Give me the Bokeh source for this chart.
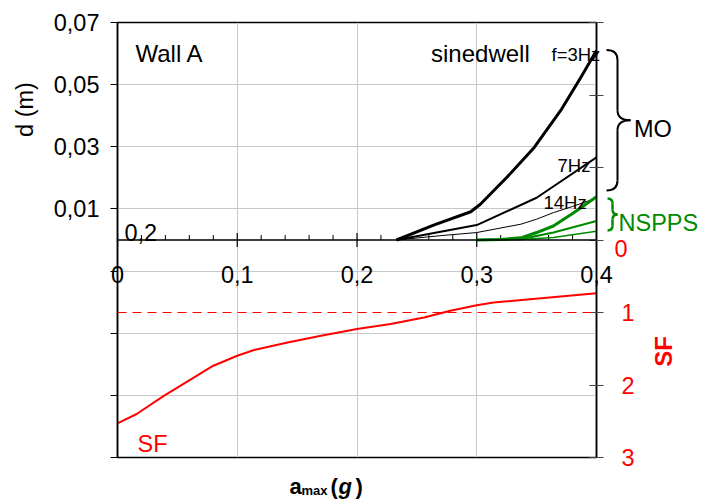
from bokeh.plotting import figure
from bokeh.models import (Range1d, LinearAxis, FixedTicker, CustomJSTickFormatter,
                          Span, ColumnDataSource)
from bokeh.embed import file_html
from bokeh.resources import INLINE
from bokeh.core.properties import value

# ---------------- data ----------------
x_ticks = [0.0, 0.1, 0.2, 0.3, 0.4]
x_tick_labels = ["0", "0,1", "0,2", "0,3", "0,4"]
x_minor_ticks = [0.02, 0.04, 0.06, 0.08, 0.12, 0.14, 0.16, 0.18,
                 0.22, 0.24, 0.26, 0.28, 0.32, 0.34, 0.36, 0.38]
d_ticks = [0.07, 0.05, 0.03, 0.01, -0.01, -0.03, -0.05, -0.07]
sf_ticks = [-3, -2, -1, 0, 1, 2, 3]

# sinedwell, MO (black)
f3_x = [0.233, 0.264, 0.295, 0.303, 0.325, 0.348, 0.370, 0.387, 0.400]
f3_d = [0.0, 0.0048, 0.0091, 0.0115, 0.0201, 0.0298, 0.0416, 0.0524, 0.0610]
f7_x = [0.233, 0.300, 0.350, 0.400]
f7_d = [0.0, 0.0048, 0.0136, 0.0266]
f14_x = [0.233, 0.270, 0.300, 0.337, 0.350, 0.364, 0.380, 0.400]
f14_d = [0.0, 0.0014, 0.0024, 0.0051, 0.0067, 0.0088, 0.0108, 0.0135]

# NSPPS (green)
n3_x = [0.300, 0.320, 0.337, 0.350, 0.364, 0.381, 0.400]
n3_d = [0.0, 0.0002, 0.0007, 0.0024, 0.0045, 0.0088, 0.0139]
n7_x = [0.300, 0.337, 0.364, 0.400]
n7_d = [0.0, 0.0003, 0.0024, 0.0061]
n14_x = [0.300, 0.337, 0.364, 0.400]
n14_d = [0.0, 0.0002, 0.0008, 0.0028]

# safety factor (red)
sf_x = [0.0, 0.016, 0.039, 0.064, 0.080, 0.100, 0.114, 0.142, 0.170, 0.200,
        0.228, 0.256, 0.278, 0.300, 0.314, 0.400]
sf_v = [2.528, 2.40, 2.147, 1.895, 1.734, 1.596, 1.518, 1.413, 1.321, 1.229,
        1.160, 1.069, 0.977, 0.899, 0.862, 0.734]
sf_limit = 1.0

# ---------------- layout constants ----------------
X0, X1 = 0.0, 0.4
D0, D1 = -0.07, 0.07
W, H = 702, 500
FL, FT, FW, FH = 117, 22, 479, 435   # frame position on the canvas (px)
FONT = "Liberation Sans"
RED = "#ff0000"
GREEN = "#008a00"


def xd(px):
    return X0 + (px - FL) / FW * (X1 - X0)


def yd(py):
    return D1 - (py - FT) / FH * (D1 - D0)


PX_D = (D1 - D0) / FH

p = figure(width=W, height=H, output_backend="svg", toolbar_location=None,
           x_range=Range1d(X0, X1), y_range=Range1d(D0, D1),
           min_border_left=FL, min_border_top=FT,
           min_border_right=W - FL - FW, min_border_bottom=H - FT - FH)
p.extra_y_ranges = {"sf": Range1d(3, -3)}
p.background_fill_color = "white"
p.border_fill_color = "white"
p.outline_line_color = "black"
p.outline_line_width = 1.5

# hidden bottom axis (only feeds the vertical grid)
p.xaxis.visible = False
p.xgrid.ticker = FixedTicker(ticks=x_ticks)
p.xgrid.grid_line_color = "#c8c8c8"

# left axis
ya = p.yaxis[0]
ya.ticker = FixedTicker(ticks=d_ticks)
ya.formatter = CustomJSTickFormatter(code="return tick > 0 ? tick.toFixed(2).replace('.', ',') : ''")
ya.major_tick_out = 7
ya.major_tick_in = 0
ya.minor_tick_out = 0
ya.minor_tick_in = 0
ya.axis_line_color = "black"
ya.axis_line_width = 1.5
ya.major_tick_line_color = "black"
ya.major_label_text_font = FONT
ya.major_label_text_font_size = "23.5px"
ya.major_label_text_color = "black"
ya.major_label_standoff = 11
p.ygrid.ticker = FixedTicker(ticks=d_ticks)
p.ygrid.grid_line_color = "#c8c8c8"

# right axis (SF)
ra = LinearAxis(y_range_name="sf", ticker=FixedTicker(ticks=sf_ticks),
                formatter=CustomJSTickFormatter(code="return tick > 0 ? String(tick) : ''"))
ra.major_tick_out = 7
ra.major_tick_in = 7
ra.minor_tick_out = 0
ra.minor_tick_in = 0
ra.axis_line_color = "black"
ra.axis_line_width = 1.5
ra.major_tick_line_color = "#444444"
ra.major_label_text_font = FONT
ra.major_label_text_font_size = "23.5px"
ra.major_label_text_color = RED
ra.major_label_standoff = 18
p.add_layout(ra, "right")

# middle x axis (d = 0)
p.add_layout(Span(location=0, dimension="width", line_color="black", line_width=1.5))
p.segment(x0=x_ticks, y0=[-7 * PX_D] * len(x_ticks), x1=x_ticks, y1=[7 * PX_D] * len(x_ticks),
          line_color="black", line_width=1.2)
p.segment(x0=x_minor_ticks, y0=[0] * len(x_minor_ticks), x1=x_minor_ticks,
          y1=[5 * PX_D] * len(x_minor_ticks), line_color="black", line_width=1)
tick_src = ColumnDataSource(dict(x=x_ticks, y=[yd(274)] * len(x_ticks), text=x_tick_labels))
rt = p.text(x="x", y="y", text="text", source=tick_src, text_align="center",
            text_baseline="middle", text_font=value(FONT),
            text_font_size=value("23.5px"), text_color="black")
rt.level = "overlay"

# SF limit & curve
p.add_layout(Span(location=sf_limit, dimension="width", y_range_name="sf",
                  line_color=RED, line_width=1, line_dash="9 6"))
p.line(sf_x, sf_v, y_range_name="sf", line_color=RED, line_width=2)

# displacement curves
p.line(f14_x, f14_d, line_color="black", line_width=1)
p.line(f7_x, f7_d, line_color="black", line_width=2)
p.line(f3_x, f3_d, line_color="black", line_width=3, line_join="round")
p.line(n14_x, n14_d, line_color=GREEN, line_width=1.5)
p.line(n7_x, n7_d, line_color=GREEN, line_width=2.2)
p.line(n3_x, n3_d, line_color=GREEN, line_width=3, line_join="round")


def brace(xl, xm, xt, top, bot, r, color, lw):
    mid = (top + bot) / 2
    qs = [((xl, top), (xm, top + r), (xm, top)),
          ((xm, mid - r), (xt, mid), (xm, mid)),
          ((xt, mid), (xm, mid + r), (xm, mid)),
          ((xm, bot - r), (xl, bot), (xm, bot))]
    rq = p.quadratic(x0=[xd(q[0][0]) for q in qs], y0=[yd(q[0][1]) for q in qs],
                     x1=[xd(q[1][0]) for q in qs], y1=[yd(q[1][1]) for q in qs],
                     cx=[xd(q[2][0]) for q in qs], cy=[yd(q[2][1]) for q in qs],
                     line_color=color, line_width=lw)
    rs = p.segment(x0=[xd(xm), xd(xm)], y0=[yd(top + r), yd(mid + r)],
                   x1=[xd(xm), xd(xm)], y1=[yd(mid - r), yd(bot - r)],
                   line_color=color, line_width=lw)
    rq.level = "overlay"
    rs.level = "overlay"


brace(606, 617, 630, 239 - f3_d[-1] / PX_D, 190, 10, "black", 2)
brace(607, 612, 617, 198, 230, 5, GREEN, 2.5)


def lab(text, px, py, size="23.5px", color="black", align="left", baseline="alphabetic",
        angle=0.0, style="normal"):
    r = p.text(x=[xd(px)], y=[yd(py)], text=[text], text_font=value(FONT),
               text_font_size=value(size), text_color=color, text_align=align,
               text_baseline=baseline, angle=angle, text_font_style=value(style))
    r.level = "overlay"


lab("Wall A", 135, 52.5, size="24px")
lab("sinedwell", 430.5, 52.5, size="24px")
lab("f=3Hz", 551, 53.5, size="18.5px")
lab("7Hz", 557, 165, size="18.5px")
lab("14Hz", 543, 202, size="18.5px")
lab("0,2", 124, 231.5)
lab("MO", 633.5, 128)
lab("NSPPS", 618, 222, color=GREEN)
lab("0", 614, 248, color=RED)
lab("SF", 137, 443, color=RED)
lab("d (m)", 24.5, 109, align="center", baseline="middle", angle=1.5708)
lab("SF", 662.5, 351, size="24px", color=RED, align="center", baseline="middle",
    angle=1.5708, style="bold")
# bottom axis title: a_max (g)
lab("a", 289, 486, size="22px", style="bold")
lab("max", 301, 489.5, size="13px", style="bold")
lab("(", 330, 486, size="22px", style="bold")
lab("g", 338, 486, size="22px", style="bold italic")
lab(")", 355, 486, size="22px", style="bold")

open("out.html", "w").write(file_html(p, INLINE))
